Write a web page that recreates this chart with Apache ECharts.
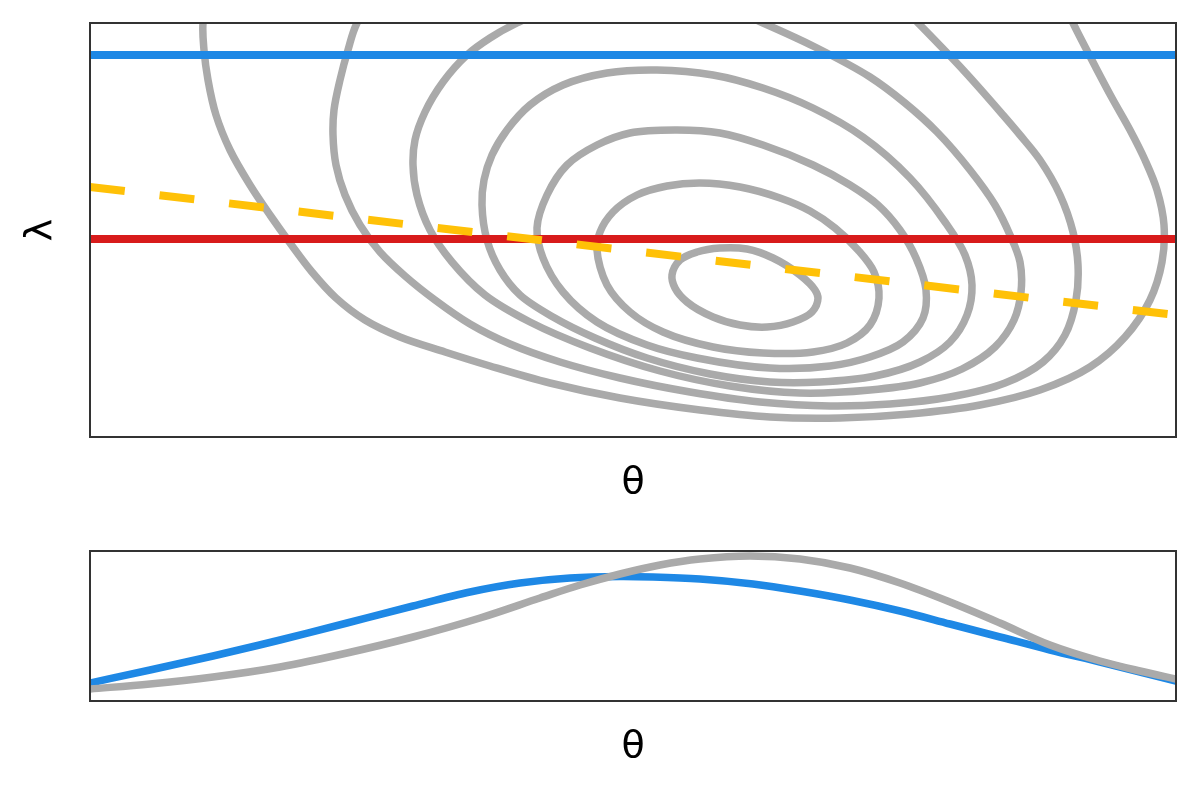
<!DOCTYPE html>
<html>
<head>
<meta charset="utf-8">
<script src="https://cdn.jsdelivr.net/npm/echarts@6/dist/echarts.min.js"></script>
<style>
html,body{margin:0;padding:0;background:#fff;}
#chart{width:1200px;height:792px;}
</style>
</head>
<body>
<div id="chart"></div>
<script>
// ---- data (θ, λ) ----
const contour1 = [[5.82,1.62],[5.90,1.77],[6.07,1.85],[6.30,1.89],[6.57,1.88],[6.83,1.79],[7.10,1.62],[7.25,1.47],[7.28,1.39],[7.22,1.25],[7.03,1.15],[6.77,1.10],[6.50,1.12],[6.23,1.20],[5.97,1.35],[5.85,1.49]];
const contour2 = [[5.07,1.87],[5.10,2.05],[5.23,2.25],[5.47,2.42],[5.77,2.51],[6.10,2.54],[6.50,2.50],[6.90,2.39],[7.20,2.26],[7.45,2.09],[7.68,1.87],[7.84,1.65],[7.89,1.39],[7.80,1.12],[7.57,0.94],[7.23,0.85],[6.73,0.84],[6.23,0.90],[5.73,1.05],[5.40,1.25],[5.17,1.52]];
const contour3 = [[4.47,2.09],[4.57,2.42],[4.77,2.72],[5.07,2.92],[5.40,3.04],[5.87,3.07],[6.30,3.04],[6.73,2.92],[7.23,2.72],[7.60,2.52],[7.88,2.32],[8.10,2.07],[8.26,1.79],[8.36,1.47],[8.33,1.19],[8.13,0.95],[7.80,0.80],[7.40,0.71],[6.80,0.69],[6.07,0.79],[5.57,0.92],[5.07,1.15],[4.73,1.45],[4.53,1.79]];
const contour4 = [[3.92,2.32],[3.94,2.57],[4.02,2.82],[4.17,3.07],[4.40,3.32],[4.73,3.52],[5.17,3.64],[5.67,3.67],[6.23,3.62],[6.73,3.49],[7.23,3.29],[7.73,3.00],[8.20,2.59],[8.55,2.15],[8.75,1.82],[8.82,1.52],[8.77,1.22],[8.60,0.95],[8.30,0.75],[7.85,0.61],[7.30,0.55],[6.80,0.55],[6.20,0.63],[5.57,0.79],[5.05,0.99],[4.63,1.20],[4.30,1.42],[4.10,1.67],[3.97,1.97]];
const contour5 = [[4.27,4.14],[4.00,3.99],[3.77,3.82],[3.53,3.55],[3.35,3.25],[3.25,2.97],[3.23,2.72],[3.27,2.42],[3.40,2.07],[3.62,1.75],[3.95,1.42],[4.40,1.15],[5.00,0.89],[5.70,0.66],[6.40,0.51],[7.10,0.44],[7.80,0.47],[8.30,0.54],[8.72,0.68],[9.05,0.90],[9.24,1.17],[9.31,1.45],[9.30,1.75],[9.20,2.02],[9.05,2.32],[8.80,2.67],[8.47,3.05],[8.15,3.34],[7.80,3.60],[7.25,3.90],[6.73,4.14],[6.30,4.32],[5.50,4.42],[4.70,4.32]];
const contour6 = [[2.67,4.14],[2.58,3.87],[2.50,3.57],[2.44,3.27],[2.43,3.02],[2.46,2.72],[2.55,2.42],[2.70,2.12],[2.90,1.85],[3.15,1.61],[3.45,1.37],[3.80,1.13],[4.20,0.93],[4.70,0.75],[5.30,0.59],[6.00,0.45],[6.70,0.35],[7.40,0.31],[8.00,0.33],[8.60,0.40],[9.15,0.54],[9.53,0.75],[9.75,1.02],[9.86,1.37],[9.88,1.72],[9.83,2.05],[9.70,2.42],[9.50,2.77],[9.30,3.02],[9.13,3.22],[8.75,3.65],[8.30,4.12],[7.90,4.52],[6.90,4.92],[5.10,5.07],[3.60,4.87],[2.90,4.47]];
const contour7 = [[1.13,4.14],[1.14,3.87],[1.18,3.57],[1.26,3.22],[1.40,2.87],[1.60,2.52],[1.80,2.22],[2.00,1.94],[2.22,1.65],[2.46,1.39],[2.75,1.17],[3.10,1.00],[3.55,0.85],[4.00,0.71],[4.60,0.54],[5.30,0.39],[6.10,0.27],[6.80,0.20],[7.50,0.19],[8.20,0.23],[8.90,0.32],[9.50,0.47],[10.00,0.70],[10.35,1.00],[10.60,1.37],[10.72,1.75],[10.74,2.12],[10.67,2.47],[10.55,2.77],[10.40,3.07],[10.22,3.39],[10.05,3.71],[9.90,4.00],[9.83,4.14],[9.72,4.37],[9.50,4.67],[8.60,5.27],[6.10,5.67],[3.10,5.47],[1.60,4.97],[1.20,4.52]];
const contours = [contour1, contour2, contour3, contour4, contour5, contour6, contour7];

const thetaRange = [0, 10.86];
const lambdaRange = [0, 4.14];
const blueLevel = 3.82;
const redLevel = 1.98;
const yellowLine = [[0, 2.50], [10.86, 1.22]];

// bottom panel: curves over θ
const densityRange = [0, 1.5];
const blueDensity = [[0,0.18],[0.60,0.31],[1.23,0.45],[1.90,0.61],[2.57,0.78],[3.23,0.95],[3.80,1.09],[4.30,1.18],[4.80,1.23],[5.30,1.245],[5.63,1.24],[6.10,1.22],[6.63,1.17],[7.10,1.10],[7.60,1.01],[8.10,0.90],[8.60,0.77],[9.10,0.64],[9.60,0.51],[10.10,0.39],[10.50,0.29],[10.86,0.20]];
const grayDensity = [[0,0.12],[0.60,0.17],[1.23,0.24],[1.90,0.34],[2.57,0.48],[3.23,0.64],[3.90,0.83],[4.50,1.03],[4.90,1.16],[5.30,1.27],[5.70,1.36],[6.10,1.42],[6.60,1.45],[7.10,1.42],[7.60,1.33],[8.10,1.18],[8.60,0.99],[9.10,0.78],[9.60,0.56],[10.10,0.40],[10.50,0.30],[10.86,0.22]];

const GRAY = '#aaaaaa', BLUE = '#1e88e5', RED = '#d81b1b', YELLOW = '#ffc107';
const nameStyle = {fontSize: 38, fontFamily: 'DejaVu Sans', color: '#000'};
const hidden = {axisLine:{show:false}, axisTick:{show:false}, axisLabel:{show:false}, splitLine:{show:false}};

// centripetal Catmull-Rom spline through pixel points -> SVG path data
function splinePath(pts, closed) {
  const n = pts.length;
  const get = (i) => {
    if (closed) return pts[(i % n + n) % n];
    if (i < 0) return [2*pts[0][0]-pts[1][0], 2*pts[0][1]-pts[1][1]];
    if (i >= n) return [2*pts[n-1][0]-pts[n-2][0], 2*pts[n-1][1]-pts[n-2][1]];
    return pts[i];
  };
  const dist = (a, b) => Math.max(1e-6, Math.pow(Math.hypot(b[0]-a[0], b[1]-a[1]), 0.5));
  let d = 'M' + pts[0][0].toFixed(2) + ' ' + pts[0][1].toFixed(2);
  const segs = closed ? n : n - 1;
  for (let i = 0; i < segs; i++) {
    const p0 = get(i-1), p1 = get(i), p2 = get(i+1), p3 = get(i+2);
    const d1 = dist(p0,p1), d2 = dist(p1,p2), d3 = dist(p2,p3);
    const c1 = [0,1].map(k => (d1*d1*p2[k] - d2*d2*p0[k] + (2*d1*d1 + 3*d1*d2 + d2*d2)*p1[k]) / (3*d1*(d1+d2)));
    const c2 = [0,1].map(k => (d3*d3*p1[k] - d2*d2*p3[k] + (2*d3*d3 + 3*d3*d2 + d2*d2)*p2[k]) / (3*d3*(d3+d2)));
    d += ' C' + c1[0].toFixed(2) + ' ' + c1[1].toFixed(2) + ' ' + c2[0].toFixed(2) + ' ' + c2[1].toFixed(2) + ' ' + p2[0].toFixed(2) + ' ' + p2[1].toFixed(2);
  }
  if (closed) d += ' Z';
  return d;
}

function curveSeries(points, closed, axisIdx, color, width, z) {
  return {
    type:'custom', coordinateSystem:'cartesian2d', xAxisIndex:axisIdx, yAxisIndex:axisIdx,
    data: points, silent:true, z:z,
    encode:{x:0, y:1},
    renderItem: function(params, api) {
      if (params.dataIndex !== 0) return null;
      const px = points.map(p => api.coord(p));
      const cs = params.coordSys;
      return {
        type:'path',
        shape:{pathData: splinePath(px, closed)},
        style:{fill:'none', stroke:color, lineWidth:width, lineJoin:'round'},
        clipPath:{type:'rect', shape:{x:cs.x, y:cs.y, width:cs.width, height:cs.height}}
      };
    }
  };
}

const series = [];
contours.forEach(c => series.push(curveSeries(c, true, 0, GRAY, 7.5, 2)));
series.push({type:'line', xAxisIndex:0, yAxisIndex:0, data:[[thetaRange[0], blueLevel],[thetaRange[1], blueLevel]], showSymbol:false, silent:true,
  lineStyle:{color:BLUE, width:8}, z:3});
series.push({type:'line', xAxisIndex:0, yAxisIndex:0, data:[[thetaRange[0], redLevel],[thetaRange[1], redLevel]], showSymbol:false, silent:true,
  lineStyle:{color:RED, width:8}, z:4});
series.push({type:'line', xAxisIndex:0, yAxisIndex:0, data:yellowLine, showSymbol:false, silent:true,
  lineStyle:{color:YELLOW, width:8, type:[35,35], cap:'butt'}, z:5});
series.push(curveSeries(blueDensity, false, 1, BLUE, 7.5, 3));
series.push(curveSeries(grayDensity, false, 1, GRAY, 7.5, 4));

const chart = echarts.init(document.getElementById('chart'), null, {renderer:'canvas'});
chart.setOption({
  animation:false,
  backgroundColor:'#fff',
  grid:[
    {left:90, top:23, width:1086, height:414, show:true, borderColor:'#333', borderWidth:2, backgroundColor:'transparent', z:10},
    {left:90, top:551, width:1086, height:150, show:true, borderColor:'#333', borderWidth:2, backgroundColor:'transparent', z:10}
  ],
  xAxis:[
    Object.assign({gridIndex:0, type:'value', min:thetaRange[0], max:thetaRange[1], name:'θ', nameLocation:'middle', nameGap:27, nameTextStyle:nameStyle}, hidden),
    Object.assign({gridIndex:1, type:'value', min:thetaRange[0], max:thetaRange[1], name:'θ', nameLocation:'middle', nameGap:27, nameTextStyle:nameStyle}, hidden)
  ],
  yAxis:[
    Object.assign({gridIndex:0, type:'value', min:lambdaRange[0], max:lambdaRange[1], name:'λ', nameLocation:'middle', nameRotate:90, nameGap:30, nameTextStyle:nameStyle}, hidden),
    Object.assign({gridIndex:1, type:'value', min:densityRange[0], max:densityRange[1]}, hidden)
  ],
  series:series
});
</script>
</body>
</html>
